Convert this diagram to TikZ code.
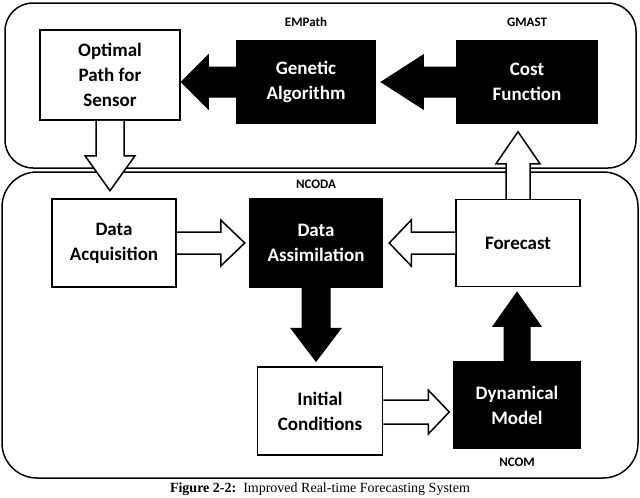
\documentclass[tikz,border=0pt]{standalone}
\usepackage{fontspec}
\setmainfont{Carlito}
\newfontfamily\capfont{Liberation Serif}
\begin{document}
\begin{tikzpicture}[x=1pt,y=-1pt,
  wbox/.style={draw,line width=1.5pt,fill=white,align=center,font=\bfseries\fontsize{19}{25}\selectfont,inner sep=0pt},
  bbox/.style={draw,line width=1.5pt,fill=black,text=white,align=center,font=\bfseries\fontsize{19}{25}\selectfont,inner sep=0pt},
  tag/.style={font=\bfseries\fontsize{13}{15}\selectfont},
  harr/.style={draw,line width=1.5pt,fill=white,line join=miter},
  farr/.style={draw,line width=1pt,fill=black}]
\useasboundingbox (0,0) rectangle (640,498);
\draw[line width=1.5pt,rounded corners=28] (5,3) rectangle (636,168);
\draw[line width=1.5pt,rounded corners=35] (2,172) rectangle (638,478);
% nodes
\node[wbox,minimum width=140,minimum height=90] (opt) at (110,75) {Optimal\\Path for\\Sensor};
\node[bbox,minimum width=138,minimum height=83] (ga) at (306,82) {Genetic\\Algorithm};
\node[bbox,minimum width=140,minimum height=83] (cf) at (527,82) {Cost\\Function};
\node[wbox,minimum width=124,minimum height=88] (dacq) at (114,243) {Data\\Acquisition};
\node[bbox,minimum width=133,minimum height=89] (dass) at (316,243) {Data\\Assimilation};
\node[wbox,minimum width=124,minimum height=87] (fc) at (518,243) {Forecast};
\node[wbox,minimum width=125,minimum height=88] (ic) at (320,411) {Initial\\Conditions};
\node[bbox,minimum width=126,minimum height=86] (dm) at (517,405) {Dynamical\\Model};
\node[tag] (t1) at (306,22) {EMPath};
\node[tag] (t2) at (527,22) {GMAST};
\node[tag] (t3) at (316,184) {NCODA};
\node[tag] (t4) at (517,462) {NCOM};
\node (cap) at (320,489) {\capfont\fontsize{14}{16}\selectfont\textbf{Figure 2-2:}\ \ Improved Real-time Forecasting System};
% arrows
\draw[farr] (cf.west) ++(0,-15) -- ++(-33,0) -- ++(0,-12) -- ++(-42,27) -- ++(42,27) -- ++(0,-12) -- ++(33,0) -- cycle;
\draw[farr] (ga.west) ++(0,-15) -- ++(-28,0) -- ++(0,-12) -- ++(-27,27) -- ++(27,27) -- ++(0,-12) -- ++(28,0) -- cycle;
\draw[harr] (opt.south) ++(-14,0) -- ++(0,35) -- ++(-11,0) -- ++(25,35) -- ++(25,-35) -- ++(-11,0) -- ++(0,-35);
\draw[harr] (fc.north) ++(-12,0) -- ++(0,-35) -- ++(-10,0) -- ++(22,-32) -- ++(22,32) -- ++(-10,0) -- ++(0,35);
\draw[harr] (dacq.east) ++(0,-11) -- ++(44,0) -- ++(0,-12) -- ++(24,23) -- ++(-24,23) -- ++(0,-12) -- ++(-44,0);
\draw[harr] (fc.west) ++(0,-11) -- ++(-44,0) -- ++(0,-12) -- ++(-22,23) -- ++(22,23) -- ++(0,-12) -- ++(44,0);
\draw[harr] (ic.east) ++(0,-11) -- ++(45,0) -- ++(0,-10) -- ++(21,22) -- ++(-21,22) -- ++(0,-10) -- ++(-45,0);
\draw[farr] (dass.south) ++(-14,0) -- ++(0,40) -- ++(-11,0) -- ++(25,33) -- ++(25,-33) -- ++(-11,0) -- ++(0,-40) -- cycle;
\draw[farr] (dm.north) ++(-13,0) -- ++(0,-35) -- ++(-11,0) -- ++(24,-34) -- ++(24,34) -- ++(-11,0) -- ++(0,35) -- cycle;
\end{tikzpicture}
\end{document}
